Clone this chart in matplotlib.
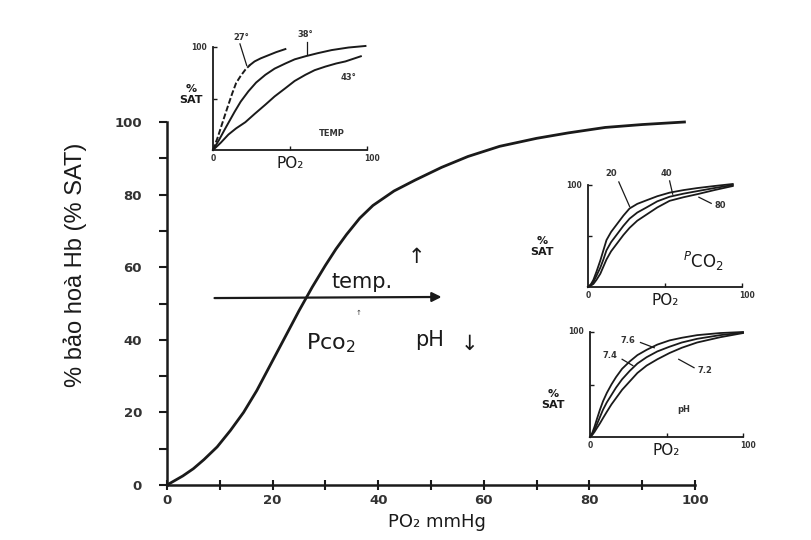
import matplotlib

matplotlib.use("Agg")
import matplotlib.pyplot as plt

# main curve: oxygen dissociation curve
PO2_MAIN = [0, 3, 5, 7, 9.5, 12, 14.5, 17, 19, 21, 23, 25, 27.5, 30, 32, 34, 36.5, 39, 43, 47,
            52, 57, 63, 70, 76, 83, 90, 98]
SAT_MAIN = [0, 2.5, 4.5, 7, 10.5, 15, 20, 26, 31.5, 37, 42.5, 48, 54.5, 60.5, 65, 69, 73.5, 77, 81, 84,
            87.5, 90.5, 93.3, 95.5, 97, 98.5, 99.3, 100]
MAIN_TICKS = [0, 10, 20, 30, 40, 50, 60, 70, 80, 90, 100]
MAIN_LABELS = ["0", "", "20", "", "40", "", "60", "", "80", "", "100"]

# inset 1: temperature
TEMP_NAMES = ["27°", "38°", "43°"]
PO2_T27 = [0, 3, 5.6, 8, 10, 12.5, 15, 18, 21, 24, 27, 31, 36, 41, 47]
SAT_T27 = [0, 12, 24, 35, 44, 55, 65, 72, 78, 82.5, 86, 89, 92, 95, 98]
T27_DASH_END = 9  # dashed up to ~21 mmHg, solid after
PO2_T38 = [0, 4, 8, 11, 14, 18, 23, 28, 34, 40, 47, 53, 60, 68, 77, 88, 99]
SAT_T38 = [0, 10, 21, 29, 37, 47, 57, 65.5, 73, 79, 84, 88, 91, 94, 97, 99.5, 101]
PO2_T43 = [0, 5, 10, 15, 21, 27, 34, 40, 47, 53, 60, 66, 73, 80, 86, 96]
SAT_T43 = [0, 7, 15, 21, 27, 35, 44, 52, 60, 67, 73, 77.5, 81, 84, 86, 91]

# inset 2: PCO2
CO2_NAMES = ["20", "40", "80"]
PO2_CO2 = [0, 2, 3.5, 5.5, 8, 10, 12, 15, 19, 23, 27, 32, 38, 45, 53, 62, 71, 82, 94]
SAT_CO2_20 = [0, 3, 7, 15, 26, 36, 46, 54, 62, 70, 77, 81.5, 85, 89, 92.5, 95, 97, 99, 101]
SAT_CO2_40 = [0, 2, 5, 11, 19, 27, 36, 44, 52, 60, 67, 73, 78, 84, 88.5, 91.5, 94, 97, 100]
SAT_CO2_80 = [0, 1.5, 3, 7, 13, 20, 27, 35, 43, 51, 58, 65, 71, 78, 84.5, 88, 91, 95, 99]

# inset 3: pH
PH_NAMES = ["7.6", "7.4", "7.2"]
PO2_PH = [0, 1.5, 3, 4.5, 6.5, 8.5, 11, 14, 17, 21, 26, 31, 37, 44, 52, 60, 70, 85, 100]
SAT_PH_76 = [0, 4, 10, 17, 26, 34, 42, 50, 57, 65, 72, 78, 83, 88, 92, 94.5, 97, 99, 100]
SAT_PH_74 = [0, 3, 7, 12, 19, 26, 33, 40, 47, 55, 63, 70, 76, 81.5, 86, 90, 93.5, 97, 99.5]
SAT_PH_72 = [0, 2, 5, 8.5, 13, 18, 24, 31, 37, 45, 53, 61, 68, 74, 80, 85, 90, 95, 99]

INK = "#1a1a1a"
GREY = "#333333"
W, H = 811, 540


def px_rect(x0, y0, x1, y1):
    # pixel box (left, top, right, bottom) -> figure rect
    return [x0 / W, 1 - y1 / H, (x1 - x0) / W, (y1 - y0) / H]


def make_inset(fig, rect):
    ax = fig.add_axes(rect)
    ax.set_xlim(0, 100)
    ax.set_ylim(0, 100)
    ax.patch.set_alpha(0)
    for s in ("top", "right"):
        ax.spines[s].set_visible(False)
    for s in ("left", "bottom"):
        ax.spines[s].set_color(INK)
        ax.spines[s].set_linewidth(1.3)
    ax.set_xticks([50, 100])
    ax.set_yticks([50, 100])
    ax.set_xticklabels([])
    ax.set_yticklabels([])
    ax.tick_params(direction="in", length=3, width=1, colors=INK)
    small = dict(fontsize=5.5, fontweight="bold", color=GREY, clip_on=False)
    ax.text(0, -4, "0", ha="center", va="top", **small)
    ax.text(-4, 100, "100", ha="right", va="center", **small)
    ax.text(103, -4, "100", ha="center", va="top", **small)
    ax.text(50, -6, "PO₂", ha="center", va="top", fontsize=11, color=INK, clip_on=False)
    return ax


def leader(ax, x0, y0, x1, y1):
    ax.plot([x0, x1], [y0, y1], color=INK, lw=0.9, clip_on=False)


fig = plt.figure(figsize=(W / 100, H / 100), dpi=100)
fig.patch.set_facecolor("white")

# ---- main chart
ax = fig.add_axes(px_rect(167, 122, 695, 485))
ax.plot(PO2_MAIN, SAT_MAIN, color=INK, lw=2, clip_on=False, solid_joinstyle="round")
ax.set_xlim(0, 100)
ax.set_ylim(0, 100)
for s in ("top", "right"):
    ax.spines[s].set_visible(False)
for s in ("left", "bottom"):
    ax.spines[s].set_color(INK)
    ax.spines[s].set_linewidth(1.8)
ax.set_xticks(MAIN_TICKS)
ax.set_xticklabels(MAIN_LABELS)
ax.set_yticks(MAIN_TICKS)
ax.set_yticklabels(MAIN_LABELS)
ax.tick_params(axis="y", direction="out", length=6, width=1.5, pad=12, colors=INK, labelcolor=GREY, labelsize=9.5)
ax.tick_params(axis="x", direction="inout", length=7, width=1.5, pad=3, colors=INK, labelcolor=GREY, labelsize=9.5)
for lab in ax.get_xticklabels() + ax.get_yticklabels():
    lab.set_fontweight("bold")

fig.text(75 / W, 1 - 265 / H, "% bảo hoà Hb (% SAT)", rotation=90, ha="center", va="center",
         fontsize=17, color=INK, fontstretch="condensed",
         family=["Liberation Sans Narrow", "Liberation Sans", "DejaVu Sans"])
fig.text(437 / W, 1 - 522 / H, "PO₂ mmHg", ha="center", va="center", fontsize=13, color=INK)

ax.annotate("", xy=(52, 51.8), xytext=(9, 51.5),
            arrowprops=dict(arrowstyle="-|>", lw=1.6, color=INK, mutation_scale=14, shrinkA=0, shrinkB=0))
ax.text(37, 56, "temp.", ha="center", va="center", fontsize=15, color=INK)
ax.text(47.2, 62.8, "↑", ha="center", va="center", fontsize=15, color=INK)
ax.text(36.2, 47.5, "↑", ha="center", va="center", fontsize=5, color=GREY)
ax.text(31, 39, "Pco$_2$", ha="center", va="center", fontsize=16, color=INK)
ax.text(49.8, 40, "pH", ha="center", va="center", fontsize=15, color=INK)
ax.text(57.2, 39, "↓", ha="center", va="center", fontsize=15, color=INK)

txt = dict(fontsize=6, fontweight="bold", color=GREY, ha="center", va="center", clip_on=False)

# ---- inset 1: temperature
a1 = make_inset(fig, px_rect(213, 47, 367, 150))
a1.plot(PO2_T27[:T27_DASH_END + 1], SAT_T27[:T27_DASH_END + 1], color=INK, lw=1.4,
        ls=(0, (3, 1.2)), clip_on=False)
a1.plot(PO2_T27[T27_DASH_END:], SAT_T27[T27_DASH_END:], color=INK, lw=1.4, clip_on=False)
a1.plot(PO2_T38, SAT_T38, color=INK, lw=1.4, clip_on=False)
a1.plot(PO2_T43, SAT_T43, color=INK, lw=1.4, clip_on=False)
a1.text(-14, 54, "%\nSAT", fontsize=8, fontweight="bold", color=INK, ha="center", va="center",
        linespacing=1.1, clip_on=False)
a1.text(18.6, 109, TEMP_NAMES[0], **txt)
leader(a1, 17.5, 103, 21.9, 82)
a1.text(60, 112, TEMP_NAMES[1], **txt)
leader(a1, 61, 105, 61, 93)
a1.text(88, 70, TEMP_NAMES[2], **txt)
a1.text(77, 16, "TEMP", **txt)

# ---- inset 2: PCO2
a2 = make_inset(fig, px_rect(588, 185, 742, 287))
for sat in (SAT_CO2_20, SAT_CO2_40, SAT_CO2_80):
    a2.plot(PO2_CO2, sat, color=INK, lw=1.3, clip_on=False)
a2.text(-30, 40, "%\nSAT", fontsize=8, fontweight="bold", color=INK, ha="center", va="center",
        linespacing=1.1, clip_on=False)
a2.text(15, 111, CO2_NAMES[0], **txt)
leader(a2, 20, 103, 27, 79)
a2.text(51, 111, CO2_NAMES[1], **txt)
leader(a2, 53, 104, 55, 91)
a2.text(86, 80, CO2_NAMES[2], **txt)
leader(a2, 80, 82, 72, 88)
a2.text(75, 25, "$^{P}$CO$_2$", fontsize=12, color=INK, ha="center", va="center")

# ---- inset 3: pH
a3 = make_inset(fig, px_rect(590, 332, 743, 437))
for sat in (SAT_PH_76, SAT_PH_74, SAT_PH_72):
    a3.plot(PO2_PH, sat, color=INK, lw=1.3, clip_on=False)
a3.text(-24, 36, "%\nSAT", fontsize=8, fontweight="bold", color=INK, ha="center", va="center",
        linespacing=1.1, clip_on=False)
a3.text(25, 92, PH_NAMES[0], **txt)
leader(a3, 33, 90, 42, 85)
a3.text(13, 78, PH_NAMES[1], **txt)
leader(a3, 21, 74, 28, 68)
a3.text(75, 63, PH_NAMES[2], **txt)
leader(a3, 68, 66, 58, 74)
a3.text(61, 26, "pH", **txt)

fig.savefig("out.png", dpi=100, facecolor="white")
